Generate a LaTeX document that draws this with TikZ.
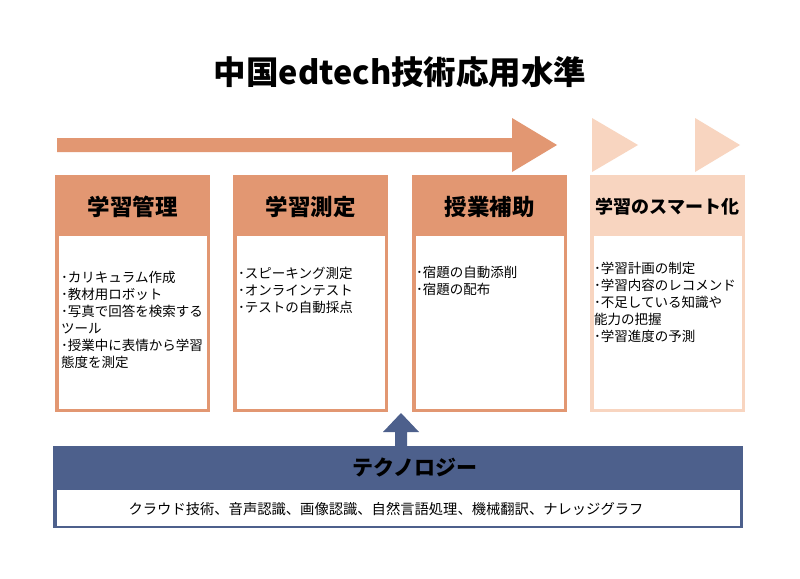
\documentclass[tikz,border=0pt]{standalone}
\usepackage{fontspec}
\setmainfont{Noto Sans CJK JP}
\definecolor{salmon}{RGB}{226,151,114}
\definecolor{lightsalmon}{RGB}{248,213,192}
\definecolor{techblue}{RGB}{77,96,140}
\tikzset{
  hdrtext/.style={font=\bfseries\fontsize{22.5}{26}\selectfont, inner sep=0pt, text=black},
  bodytext/.style={font=\fontsize{13.5}{17}\selectfont, align=left, anchor=north west, inner sep=0pt, text=black},
}
\begin{document}
\begin{tikzpicture}[x=1pt,y=-1pt]
\useasboundingbox (0,0) rectangle (800,578);
\fill[white] (0,0) rectangle (800,578);
% title
\node[font=\bfseries\fontsize{32.5}{36}\selectfont, inner sep=0pt] (title) at (400,72) {中国edtech技術応用水準};
% big arrow
\fill[salmon] (57,138) -- (512,138) -- (512,118) -- (557,145) -- (512,172) -- (512,152) -- (57,152) -- cycle;
\fill[lightsalmon] (592,118) -- (638,145) -- (592,172) -- cycle;
\fill[lightsalmon] (695,118) -- (740,145) -- (695,172) -- cycle;
% boxes
\foreach \l/\r/\c/\n in {55/210/salmon/b1, 233/388/salmon/b2, 412/567/salmon/b3, 590/745/lightsalmon/b4}{
  \fill[\c] (\l,175) rectangle (\r,412);
  \fill[white] (\l+3.5,236) rectangle (\r-3.5,408.5);
}
\node[hdrtext] (h1) at (132.5,207) {学習管理};
\node[hdrtext] (h2) at (310.5,207) {学習測定};
\node[hdrtext] (h3) at (489.5,207) {授業補助};
\node[hdrtext, font=\bfseries\fontsize{18}{21}\selectfont] (h4) at (667.5,207) {学習のスマート化};
\node[bodytext] (t1) at (61,271) {･カリキュラム作成\\･教材用ロボット\\･写真で回答を検索する\\ツール\\･授業中に表情から学習\\態度を測定};
\node[bodytext] (t2) at (238,267) {･スピーキング測定\\･オンラインテスト\\･テストの自動採点};
\node[bodytext] (t3) at (416,266) {･宿題の自動添削\\･宿題の配布};
\node[bodytext] (t4) at (594,262) {･学習計画の制定\\･学習内容のレコメンド\\･不足している知識や\\能力の把握\\･学習進度の予測};
% up arrow
\fill[techblue] (395,446) -- (395,432) -- (383,432) -- (401,413) -- (419,432) -- (407,432) -- (407,446) -- cycle;
% technology box
\fill[techblue] (53,446) rectangle (743,528);
\fill[white] (57,490) rectangle (740,526);
\node[font=\bfseries\fontsize{21}{24}\selectfont, inner sep=0pt] (tech) at (415,467) {テクノロジー};
\node[font=\fontsize{14.3}{17}\selectfont, inner sep=0pt] (techlist) at (386,509) {クラウド技術、音声認識、画像認識、自然言語処理、機械翻訳、ナレッジグラフ};
\end{tikzpicture}
\end{document}
